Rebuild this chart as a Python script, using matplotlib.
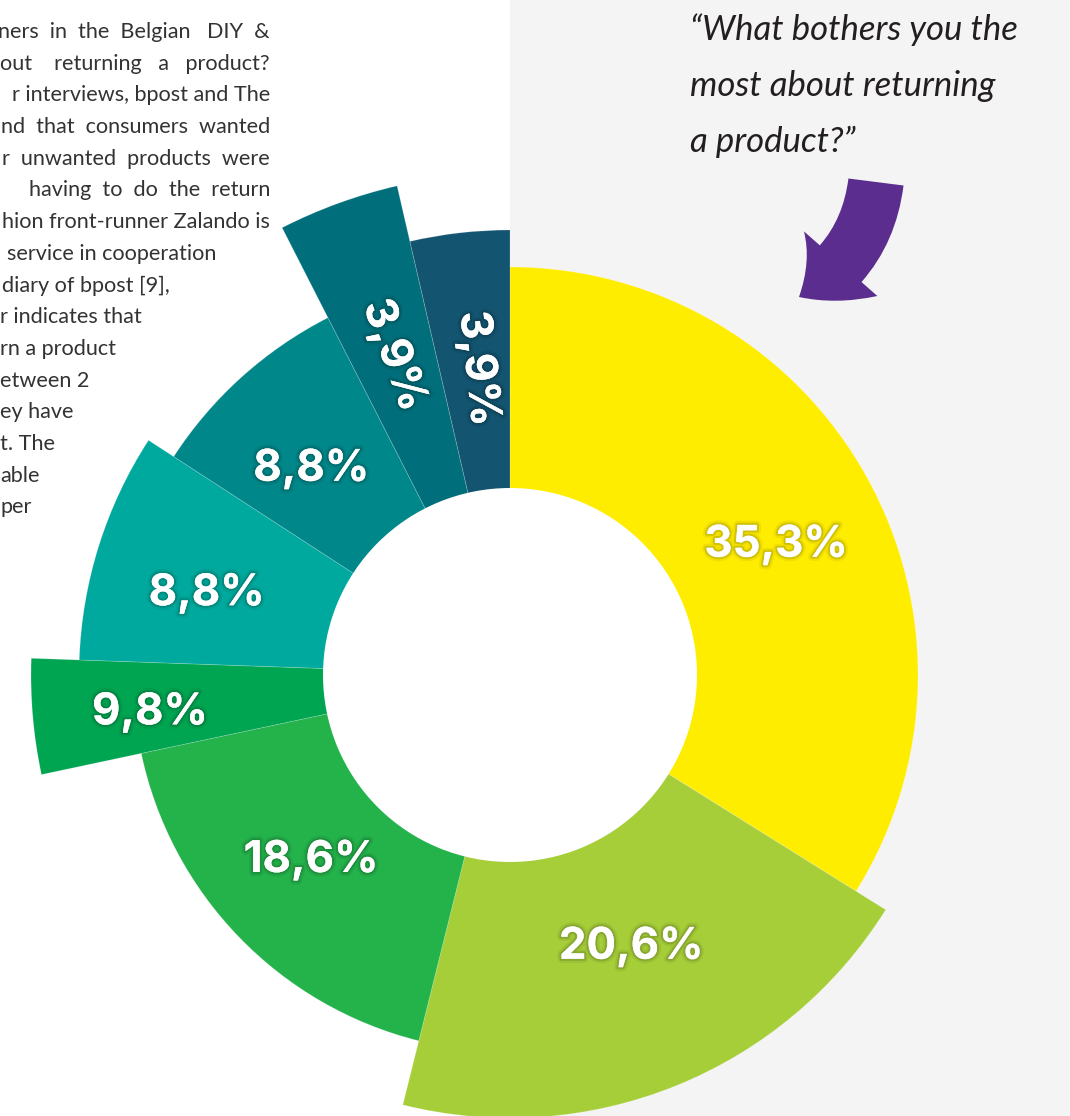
import numpy as np
import matplotlib
matplotlib.use("Agg")
import matplotlib.pyplot as plt
import matplotlib.patheffects as pe
from matplotlib.patches import Rectangle, FancyArrowPatch

# slice data, clockwise from 12 o'clock
labels = ["35,3%", "20,6%", "18,6%", "9,8%", "8,8%", "8,8%", "3,9%", "3,9%"]
spans = [122, 72, 64, 14, 31, 30, 14, 13]           # angle of each slice as drawn (deg)
outer = [408, 443, 377, 479, 431, 401, 502, 445]    # outer radius as drawn (px)
colors = ["#FFED00", "#A6CE39", "#24B24B", "#00A551",
          "#00A99D", "#00878A", "#006F7B", "#135470"]
label_ang = [64, 156, 227, 264, 285, 316, 340, 354]
label_r = [296, 298, 272, 362, 314, 286, 340, 308]
rotated = [False, False, False, False, False, False, True, True]
hole = 187

quote = ["\u201cWhat bothers you the", "most about returning", "a product?\u201d"]

# cut-off body text on the left
par_right = ["ners  in  the  Belgian   DIY  &",
             "out    returning   a   product?",
             "r interviews, bpost and The",
             "nd  that  consumers  wanted",
             "r  unwanted  products  were",
             "having  to  do  the  return",
             "hion front-runner Zalando is"]
par_left = ["service in cooperation", "diary of bpost [9],", "r indicates that",
            "rn a product", "etween 2", "ey have", "t. The", "able", "per"]
par_left_x = [7, 2, 0, 0, 0, 0, 0, 0, 0]

W, H = 1070, 1116
fig = plt.figure(figsize=(W / 100, H / 100), dpi=100)

bg = fig.add_axes([0, 0, 1, 1])
bg.set_xlim(0, W)
bg.set_ylim(H, 0)
bg.axis("off")
bg.add_patch(Rectangle((510, 0), W - 510, H, color="#F4F4F4", lw=0))

# paragraph
y = 32
for line in par_right:
    bg.text(270, y, line, ha="right", va="center", fontsize=15.6,
            family="Lato", color="#333333")
    y += 31.7
for line, x0 in zip(par_left, par_left_x):
    bg.text(x0, y, line, ha="left", va="center", fontsize=15.6,
            family="Lato", color="#333333")
    y += 31.7

# quote
for i, line in enumerate(quote):
    bg.text(690, 40 + 56 * i, line, ha="left", va="baseline", fontsize=25,
            family="Lato", style="italic", color="#231F20")

arrow = FancyArrowPatch((876, 182), (799, 297), connectionstyle="arc3,rad=-0.25",
                        arrowstyle="simple,head_width=2.2,head_length=1.2,tail_width=1.25",
                        mutation_scale=32, color="#5B2D8E", lw=0,
                        shrinkA=0, shrinkB=0)
bg.add_patch(arrow)

# chart
cx, cy = 510, 675
rmax = 520
ax = fig.add_axes([(cx - rmax) / W, (H - cy - rmax) / H, 2 * rmax / W, 2 * rmax / H],
                  projection="polar")
ax.set_theta_zero_location("N")
ax.set_theta_direction(-1)
ax.set_ylim(0, rmax)
ax.axis("off")
ax.patch.set_alpha(0)

edges = np.concatenate([[0], np.cumsum(spans)])
ax.bar(np.deg2rad(edges[:-1]), outer, width=np.deg2rad(spans), bottom=0, align="edge",
       color=colors, edgecolor=(1, 1, 1, 0.2), linewidth=0.6)

# soft shadow round the hole
for k in range(1, 31):
    ax.bar(0, hole + 3 * k, width=2 * np.pi, bottom=0, color="black", alpha=0.0017, lw=0)
ax.bar(0, hole, width=2 * np.pi, bottom=0, color="white", lw=0)

shadow = [pe.Stroke(linewidth=6, foreground=(0, 0, 0, 0.06)),
          pe.Stroke(linewidth=3, foreground=(0, 0, 0, 0.12)),
          pe.Normal()]
for lab, m, r, rot in zip(labels, label_ang, label_r, rotated):
    ang = (270 - m + 180) % 360 - 180 if rot else 0
    ax.text(np.deg2rad(m), r, lab, rotation=ang, rotation_mode="anchor",
            ha="center", va="center", fontsize=31.5, weight="bold", family="Inter",
            color="white", path_effects=shadow)

fig.savefig("out.png", dpi=100)
